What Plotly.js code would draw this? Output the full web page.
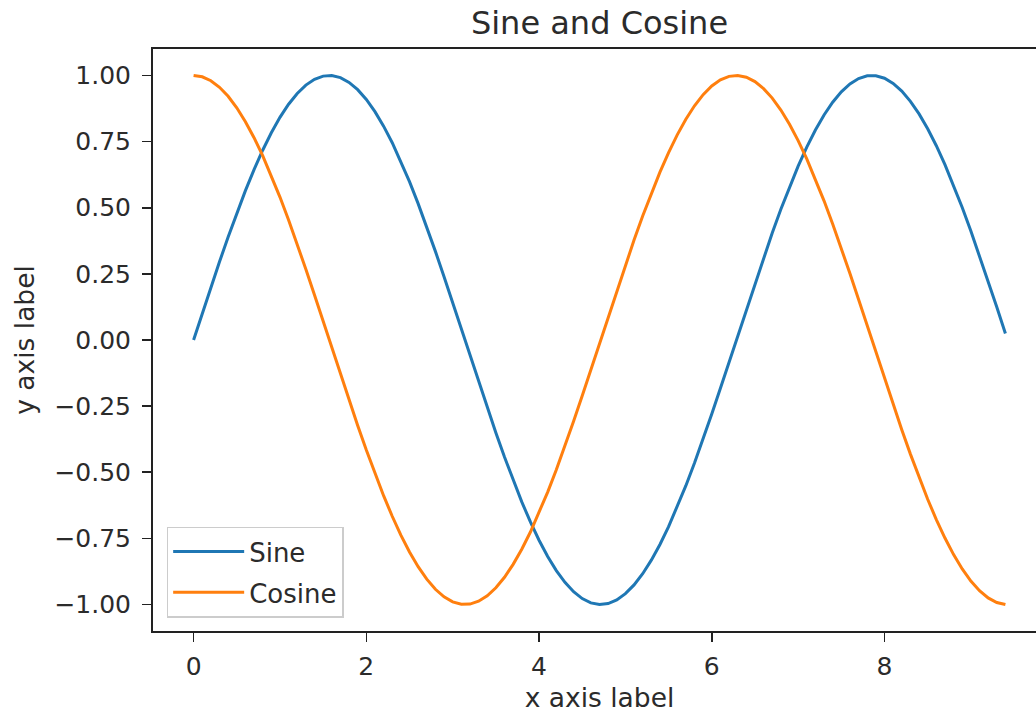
<!DOCTYPE html>
<html>
<head>
<meta charset="utf-8">
<script src="https://cdn.plot.ly/plotly-3.0.1.min.js"></script>
<style>
html,body{margin:0;padding:0;overflow:hidden;background:#fff;}
#chart{width:1050px;height:715px;}
</style>
</head>
<body>
<div id="chart"></div>
<script>
const xValues = [0.0,0.1,0.2,0.3,0.4,0.5,0.6,0.7,0.8,0.9,
1.0,1.1,1.2,1.3,1.4,1.5,1.6,1.7,1.8,1.9,
2.0,2.1,2.2,2.3,2.4,2.5,2.6,2.7,2.8,2.9,
3.0,3.1,3.2,3.3,3.4,3.5,3.6,3.7,3.8,3.9,
4.0,4.1,4.2,4.3,4.4,4.5,4.6,4.7,4.8,4.9,
5.0,5.1,5.2,5.3,5.4,5.5,5.6,5.7,5.8,5.9,
6.0,6.1,6.2,6.3,6.4,6.5,6.6,6.7,6.8,6.9,
7.0,7.1,7.2,7.3,7.4,7.5,7.6,7.7,7.8,7.9,
8.0,8.1,8.2,8.3,8.4,8.5,8.6,8.7,8.8,8.9,
9.0,9.1,9.2,9.3,9.4];

const sineValues = [0.0000,0.0998,0.1987,0.2955,0.3894,0.4794,0.5646,0.6442,0.7174,0.7833,
0.8415,0.8912,0.9320,0.9636,0.9854,0.9975,0.9996,0.9917,0.9738,0.9463,
0.9093,0.8632,0.8085,0.7457,0.6755,0.5985,0.5155,0.4274,0.3350,0.2392,
0.1411,0.0416,-0.0584,-0.1577,-0.2555,-0.3508,-0.4425,-0.5298,-0.6119,-0.6878,
-0.7568,-0.8183,-0.8716,-0.9162,-0.9516,-0.9775,-0.9937,-0.9999,-0.9962,-0.9825,
-0.9589,-0.9258,-0.8835,-0.8323,-0.7728,-0.7055,-0.6313,-0.5507,-0.4646,-0.3739,
-0.2794,-0.1822,-0.0831,0.0168,0.1165,0.2151,0.3115,0.4048,0.4941,0.5784,
0.6570,0.7290,0.7937,0.8504,0.8987,0.9380,0.9679,0.9882,0.9985,0.9989,
0.9894,0.9699,0.9407,0.9022,0.8546,0.7985,0.7344,0.6630,0.5849,0.5010,
0.4121,0.3190,0.2229,0.1245,0.0248];

const cosineValues = [1.0000,0.9950,0.9801,0.9553,0.9211,0.8776,0.8253,0.7648,0.6967,0.6216,
0.5403,0.4536,0.3624,0.2675,0.1700,0.0707,-0.0292,-0.1288,-0.2272,-0.3233,
-0.4161,-0.5048,-0.5885,-0.6663,-0.7374,-0.8011,-0.8569,-0.9041,-0.9422,-0.9710,
-0.9900,-0.9991,-0.9983,-0.9875,-0.9668,-0.9365,-0.8968,-0.8481,-0.7910,-0.7259,
-0.6536,-0.5748,-0.4903,-0.4008,-0.3073,-0.2108,-0.1122,-0.0124,0.0875,0.1865,
0.2837,0.3780,0.4685,0.5544,0.6347,0.7087,0.7756,0.8347,0.8855,0.9275,
0.9602,0.9833,0.9965,0.9999,0.9932,0.9766,0.9502,0.9144,0.8694,0.8157,
0.7539,0.6845,0.6084,0.5261,0.4385,0.3466,0.2513,0.1534,0.0540,-0.0460,
-0.1455,-0.2435,-0.3392,-0.4314,-0.5193,-0.6020,-0.6787,-0.7486,-0.8111,-0.8654,
-0.9111,-0.9477,-0.9748,-0.9922,-0.9997];

const xTicks = [0, 2, 4, 6, 8];
const yTicks = [-1.00, -0.75, -0.50, -0.25, 0.00, 0.25, 0.50, 0.75, 1.00];
const seriesNames = ["Sine", "Cosine"];

const FONT = "DejaVu Sans, sans-serif";
const TXT = "#2b2b2b";

const traces = [
  {x: xValues, y: sineValues, name: seriesNames[0], type: "scatter", mode: "lines",
   line: {color: "#1f77b4", width: 3}, legendgroup: "a"},
  {x: xValues, y: cosineValues, name: seriesNames[1], type: "scatter", mode: "lines",
   line: {color: "#ff7f0e", width: 3}, legendgroup: "b"}
];

const axisCommon = {
  showgrid: false, zeroline: false,
  showline: true, mirror: true, linecolor: "#222", linewidth: 2,
  ticks: "outside", ticklen: 9, tickwidth: 1.6, tickcolor: "#222",
  tickfont: {family: FONT, size: 25, color: TXT},
  automargin: false
};

const layout = {
  width: 1050, height: 715,
  margin: {l: 153, r: 4, t: 49, b: 84},
  paper_bgcolor: "#fff", plot_bgcolor: "#fff",
  title: {text: "Sine and Cosine", font: {family: FONT, size: 32, color: TXT},
          x: 0.5, xref: "paper", xanchor: "center", y: 0.968, yref: "container", yanchor: "middle"},
  xaxis: Object.assign({}, axisCommon, {
    range: [-0.47, 9.87], tickmode: "array", tickvals: xTicks, ticktext: xTicks.map(String),
    ticklabelstandoff: 3,
    title: {text: "x axis label", font: {family: FONT, size: 26.5, color: TXT}, standoff: 8}
  }),
  yaxis: Object.assign({}, axisCommon, {
    range: [-1.1, 1.1], tickmode: "array", tickvals: yTicks,
    ticktext: yTicks.map(v => (v < 0 ? "\u2212" : "") + Math.abs(v).toFixed(2)),
    ticklabelstandoff: 6,
    title: {text: "y axis label", font: {family: FONT, size: 26.5, color: TXT}, standoff: 12}
  }),
  showlegend: true,
  legend: {x: 0.0153, y: 0.0229, xanchor: "left", yanchor: "bottom",
           bgcolor: "rgba(255,255,255,0.8)", bordercolor: "#cccccc", borderwidth: 1.5,
           font: {family: FONT, size: 26, color: TXT}, tracegroupgap: 4, itemwidth: 71}
};

Plotly.newPlot("chart", traces, layout, {displayModeBar: false, staticPlot: true});
</script>
</body>
</html>
